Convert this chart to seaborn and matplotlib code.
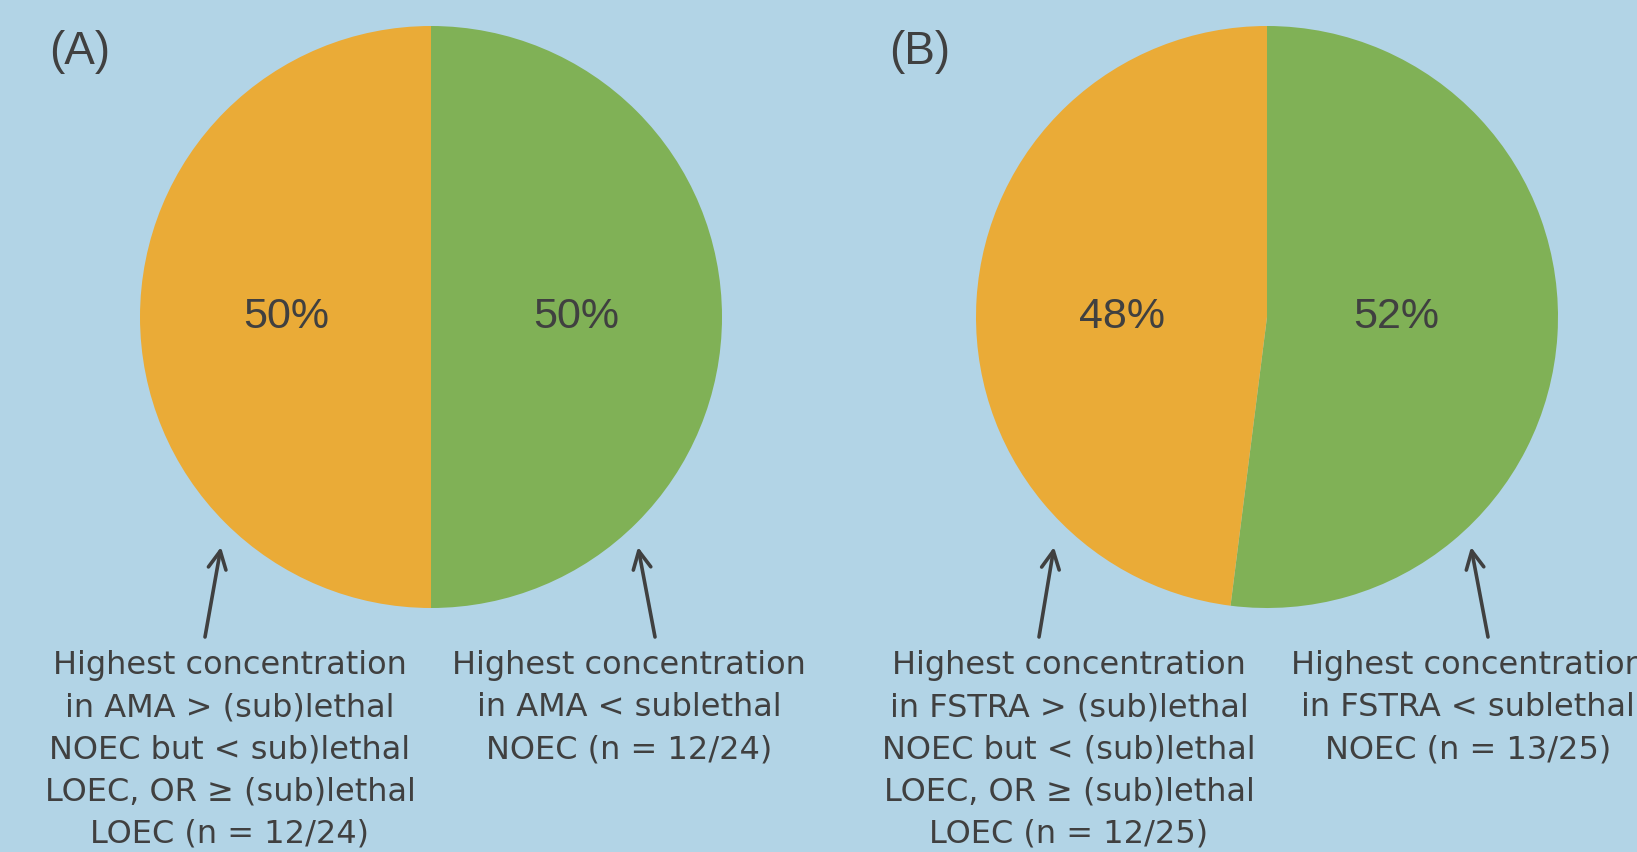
import matplotlib
matplotlib.use("Agg")
import matplotlib.pyplot as plt
import seaborn as sns

# ---------------- data ----------------
panels = ["(A)", "(B)"]
# studies where highest concentration < sublethal NOEC (green), and the rest (orange)
below_noec = [12, 13]
above_noec = [12, 12]
totals = [24, 25]
media = ["AMA", "FSTRA"]

below_labels = [
    "Highest concentration\nin AMA < sublethal\nNOEC (n = 12/24)",
    "Highest concentration\nin FSTRA < sublethal\nNOEC (n = 13/25)",
]
above_labels = [
    "Highest concentration\nin AMA > (sub)lethal\nNOEC but < sub)lethal\nLOEC, OR \u2265 (sub)lethal\nLOEC (n = 12/24)",
    "Highest concentration\nin FSTRA > (sub)lethal\nNOEC but < (sub)lethal\nLOEC, OR \u2265 (sub)lethal\nLOEC (n = 12/25)",
]

# ---------------- style ----------------
sns.set_theme(style="white")
bg = "#B2D4E6"
green, orange = sns.color_palette(["#80B156", "#EAAB37"])
ink = "#404040"

W, H = 1637, 852
fig = plt.figure(figsize=(W / 100, H / 100), dpi=100, facecolor=bg)
ax = fig.add_axes([0, 0, 1, 1])
ax.set_facecolor(bg)

# pie layout in pixel coords (y measured from top)
centers_x = [431, 1267]
center_y = 317
radius = 291
panel_xy = [(80, 52), (920, 52)]
# horizontal offset of the percentage labels from the pie centre
pct_dx = [(145, -145), (129, -145)]
# arrow (tail, tip) pairs and label centres for left/right labels of each pie
arrows_left = [((205, 637), (221, 547)), ((1039, 637), (1054, 547))]
arrows_right = [((655, 637), (638, 547)), ((1488, 637), (1471, 547))]
label_left_x = [230, 1069]
label_right_x = [629, 1468]
label_top = 650

for i in range(2):
    cx, cy = centers_x[i], H - center_y
    wedges, texts, autotexts = ax.pie(
        [below_noec[i], above_noec[i]],
        colors=[green, orange],
        startangle=90,
        counterclock=False,
        center=(cx, cy),
        radius=radius,
        autopct="%.0f%%",
        pctdistance=0.5,
        frame=True,
        wedgeprops=dict(linewidth=0),
        textprops=dict(color=ink, fontsize=31, family="Liberation Sans"),
    )
    for t, dx in zip(autotexts, pct_dx[i]):
        t.set_position((cx + dx, cy))

    ax.text(panel_xy[i][0], H - panel_xy[i][1], panels[i], ha="center", va="center",
            fontsize=33, color=ink, family="Liberation Sans")

    for (tail, tip) in [arrows_left[i], arrows_right[i]]:
        ax.annotate("", xy=(tip[0], H - tip[1]), xytext=(tail[0], H - tail[1]),
                    arrowprops=dict(arrowstyle="->", lw=2.6, color=ink, mutation_scale=32,
                                    shrinkA=0, shrinkB=0))

    ax.text(label_left_x[i], H - label_top, above_labels[i], ha="center", va="top",
            fontsize=23, color=ink, linespacing=1.46, family="DejaVu Sans")
    ax.text(label_right_x[i], H - label_top, below_labels[i], ha="center", va="top",
            fontsize=23, color=ink, linespacing=1.46, family="DejaVu Sans")

ax.set_xlim(0, W)
ax.set_ylim(0, H)
ax.set_aspect("equal")
ax.axis("off")

fig.savefig("out.png", dpi=100, facecolor=bg)
